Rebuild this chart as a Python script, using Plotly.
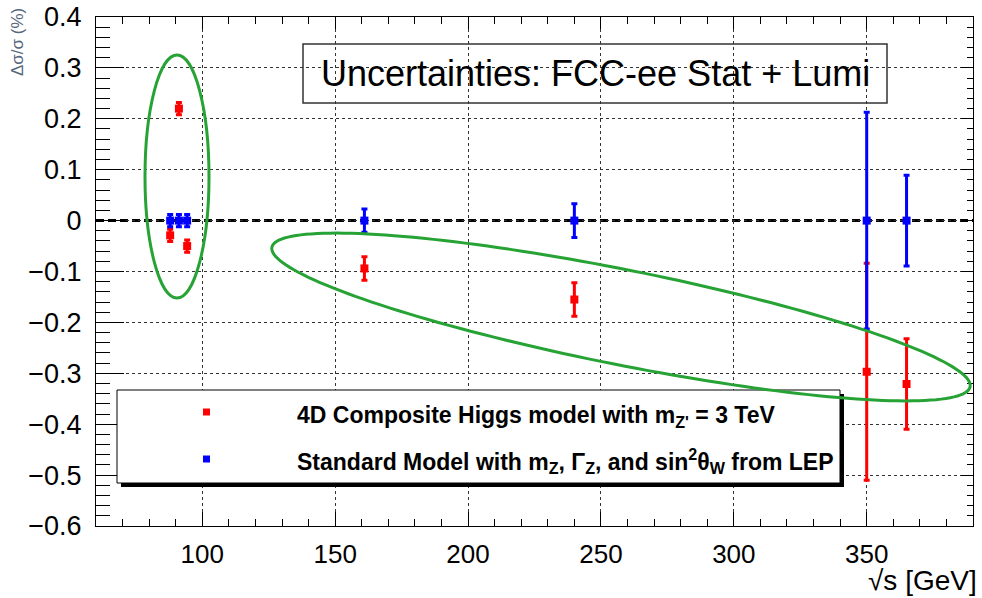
import numpy as np
import plotly.graph_objects as go

# ---------------- data ----------------
energy = [87.9, 91.2, 94.3, 161, 240, 350, 365]            # sqrt(s) [GeV]
composite_higgs = [-0.029, 0.22, -0.050, -0.094, -0.155, -0.297, -0.321]  # delta sigma / sigma (%)
standard_model = [0, 0, 0, 0, 0, 0, 0]
uncertainty = [0.012, 0.012, 0.012, 0.023, 0.033, 0.213, 0.089]

x_range = [60, 390]
y_range = [-0.6, 0.4]
x_tick_vals = [100, 150, 200, 250, 300, 350]
y_tick_vals = [-0.6, -0.5, -0.4, -0.3, -0.2, -0.1, 0, 0.1, 0.2, 0.3, 0.4]
y_tick_text = ["−0.6", "−0.5", "−0.4", "−0.3", "−0.2", "−0.1", "0", "0.1", "0.2", "0.3", "0.4"]

legend_labels = [
    "<b>4D Composite Higgs model with m<sub>Z'</sub> = 3 TeV</b>",
    "<b>Standard Model with m<sub>Z</sub>, Γ<sub>Z</sub>, and sin<sup>2</sup>θ<sub>W</sub> from LEP</b>",
]
title_text = "Uncertainties: FCC-ee Stat + Lumi"

# ---------------- layout geometry ----------------
W, H = 982, 598
L, R, T, B = 96, 9, 17, 72
PW, PH = W - L - R, H - T - B
FONT = "Liberation Sans, Arial, sans-serif"
RED, BLUE, GREEN = "#ff0000", "#0000ff", "#26a334"


def paper(px, py):
    return (px - L) / PW, (H - B - py) / PH


def to_data(px, py):
    x = x_range[0] + (px - L) / PW * (x_range[1] - x_range[0])
    y = y_range[1] - (py - T) / PH * (y_range[1] - y_range[0])
    return x, y


fig = go.Figure()

fig.add_trace(go.Scatter(
    x=energy, y=composite_higgs, mode="markers",
    marker=dict(symbol="square", size=8, color=RED),
    error_y=dict(type="data", array=uncertainty, color=RED, thickness=3, width=3),
    showlegend=False, hoverinfo="skip"))
fig.add_trace(go.Scatter(
    x=energy, y=standard_model, mode="markers",
    marker=dict(symbol="square", size=8, color=BLUE),
    error_y=dict(type="data", array=uncertainty, color=BLUE, thickness=3, width=3),
    showlegend=False, hoverinfo="skip"))
# empty trace for mirrored (top/right) tick axes
fig.add_trace(go.Scatter(x=[], y=[], xaxis="x2", yaxis="y2", showlegend=False))

grid = dict(showgrid=True, gridcolor="#333333", gridwidth=1, griddash="3px,3px")
fig.update_layout(
    width=W, height=H,
    margin=dict(l=L, r=R, t=T, b=B, autoexpand=False),
    paper_bgcolor="white", plot_bgcolor="white",
    font=dict(family=FONT, color="black"),
    xaxis=dict(range=x_range, tickvals=x_tick_vals, ticks="inside", ticklen=14,
               tickwidth=1, tickcolor="black", automargin=False,
               minor=dict(dtick=10, tick0=60, ticks="inside", ticklen=7, tickcolor="black", showgrid=False),
               showline=True, linecolor="black", linewidth=1, mirror=True,
               zeroline=False, tickfont=dict(size=26, family=FONT), ticklabelstandoff=5, **grid),
    yaxis=dict(range=y_range, tickvals=y_tick_vals, ticktext=y_tick_text, ticks="inside", ticklen=28,
               tickwidth=1, tickcolor="black", automargin=False,
               minor=dict(dtick=0.02, tick0=0, ticks="inside", ticklen=14, tickcolor="black", showgrid=False),
               showline=True, linecolor="black", linewidth=1, mirror=True,
               zeroline=False, tickfont=dict(size=27, family=FONT), ticklabelstandoff=8, **grid),
    xaxis2=dict(range=x_range, overlaying="x", side="top", tickvals=x_tick_vals, showticklabels=False,
                ticks="inside", ticklen=12, tickcolor="black", automargin=False,
                minor=dict(dtick=10, tick0=60, ticks="inside", ticklen=7, tickcolor="black"),
                showgrid=False, zeroline=False, showline=False),
    yaxis2=dict(range=y_range, overlaying="y", side="right", tickvals=y_tick_vals, showticklabels=False,
                ticks="inside", ticklen=12, tickcolor="black", automargin=False,
                minor=dict(dtick=0.02, tick0=0, ticks="inside", ticklen=6, tickcolor="black"),
                showgrid=False, zeroline=False, showline=False),
)

shapes = []
# dashed zero line
shapes.append(dict(type="line", xref="paper", yref="y", x0=0, x1=1, y0=0, y1=0,
                   line=dict(color="black", width=3, dash="8px,4px"), layer="between"))
# title box
bx0, by0 = paper(303, 44)
bx1, by1 = paper(887, 103)
shapes.append(dict(type="rect", xref="paper", yref="paper", x0=bx0, y0=by1, x1=bx1, y1=by0,
                   line=dict(color="#333333", width=1.5), fillcolor="rgba(0,0,0,0)", layer="above"))
# legend shadow + box
sx0, sy0 = paper(121, 394)
sx1, sy1 = paper(844, 487)
shapes.append(dict(type="rect", xref="paper", yref="paper", x0=sx0, y0=sy1, x1=sx1, y1=sy0,
                   line=dict(width=0), fillcolor="black", layer="above"))
lx0, ly0 = paper(117, 390)
lx1, ly1 = paper(840, 483)
shapes.append(dict(type="rect", xref="paper", yref="paper", x0=lx0, y0=ly1, x1=lx1, y1=ly0,
                   line=dict(color="black", width=1), fillcolor="white", layer="above"))
# legend marker squares
for cy, col in [(412, RED), (459, BLUE)]:
    mx0, my0 = paper(203, cy - 3.5)
    mx1, my1 = paper(210, cy + 3.5)
    shapes.append(dict(type="rect", xref="paper", yref="paper", x0=mx0, y0=my1, x1=mx1, y1=my0,
                       line=dict(width=0), fillcolor=col, layer="above"))

# ellipse around Z-pole points
ex0, ey0 = to_data(145, 298)
ex1, ey1 = to_data(209, 55)
shapes.append(dict(type="circle", xref="x", yref="y", x0=ex0, y0=ey0, x1=ex1, y1=ey1,
                   line=dict(color=GREEN, width=3), layer="above"))
# tilted ellipse around high-energy composite points (defined in pixel space)
ccx, ccy, a, b, th = 621, 317, 356, 47.5, np.deg2rad(11.3)
t = np.linspace(0, 2 * np.pi, 181)
epx = ccx + a * np.cos(t) * np.cos(th) - b * np.sin(t) * np.sin(th)
epy = ccy + a * np.cos(t) * np.sin(th) + b * np.sin(t) * np.cos(th)
pts = [to_data(px, py) for px, py in zip(epx, epy)]
path = "M " + " L ".join(f"{x:.4f},{y:.5f}" for x, y in pts) + " Z"
shapes.append(dict(type="path", xref="x", yref="y", path=path,
                   line=dict(color=GREEN, width=3), layer="above"))

fig.update_layout(shapes=shapes)

annotations = []
tx, ty = paper(595, 74)
annotations.append(dict(xref="paper", yref="paper", x=tx, y=ty, text=title_text, showarrow=False,
                        xanchor="center", yanchor="middle", font=dict(size=36, family=FONT, color="black")))
for label, cy in zip(legend_labels, [416, 461]):
    ax, ay = paper(295, cy)
    annotations.append(dict(xref="paper", yref="paper", x=ax, y=ay, text=label, showarrow=False,
                            xanchor="left", yanchor="middle", font=dict(size=23, family=FONT, color="black")))
# axis titles
yx, yy = paper(18, 42)
annotations.append(dict(xref="paper", yref="paper", x=yx, y=yy, text="Δσ/σ (%)", textangle=-90,
                        showarrow=False, xanchor="center", yanchor="middle",
                        font=dict(size=17, family=FONT, color="#56677d")))
xx, xy = paper(979, 580)
annotations.append(dict(xref="paper", yref="paper", x=xx, y=xy, text="√s [GeV]", showarrow=False,
                        xanchor="right", yanchor="middle", font=dict(size=28, family=FONT, color="black")))
fig.update_layout(annotations=annotations)

fig.write_html("out.html", config={"displayModeBar": False},
               post_script="document.body.style.margin='0px';")
